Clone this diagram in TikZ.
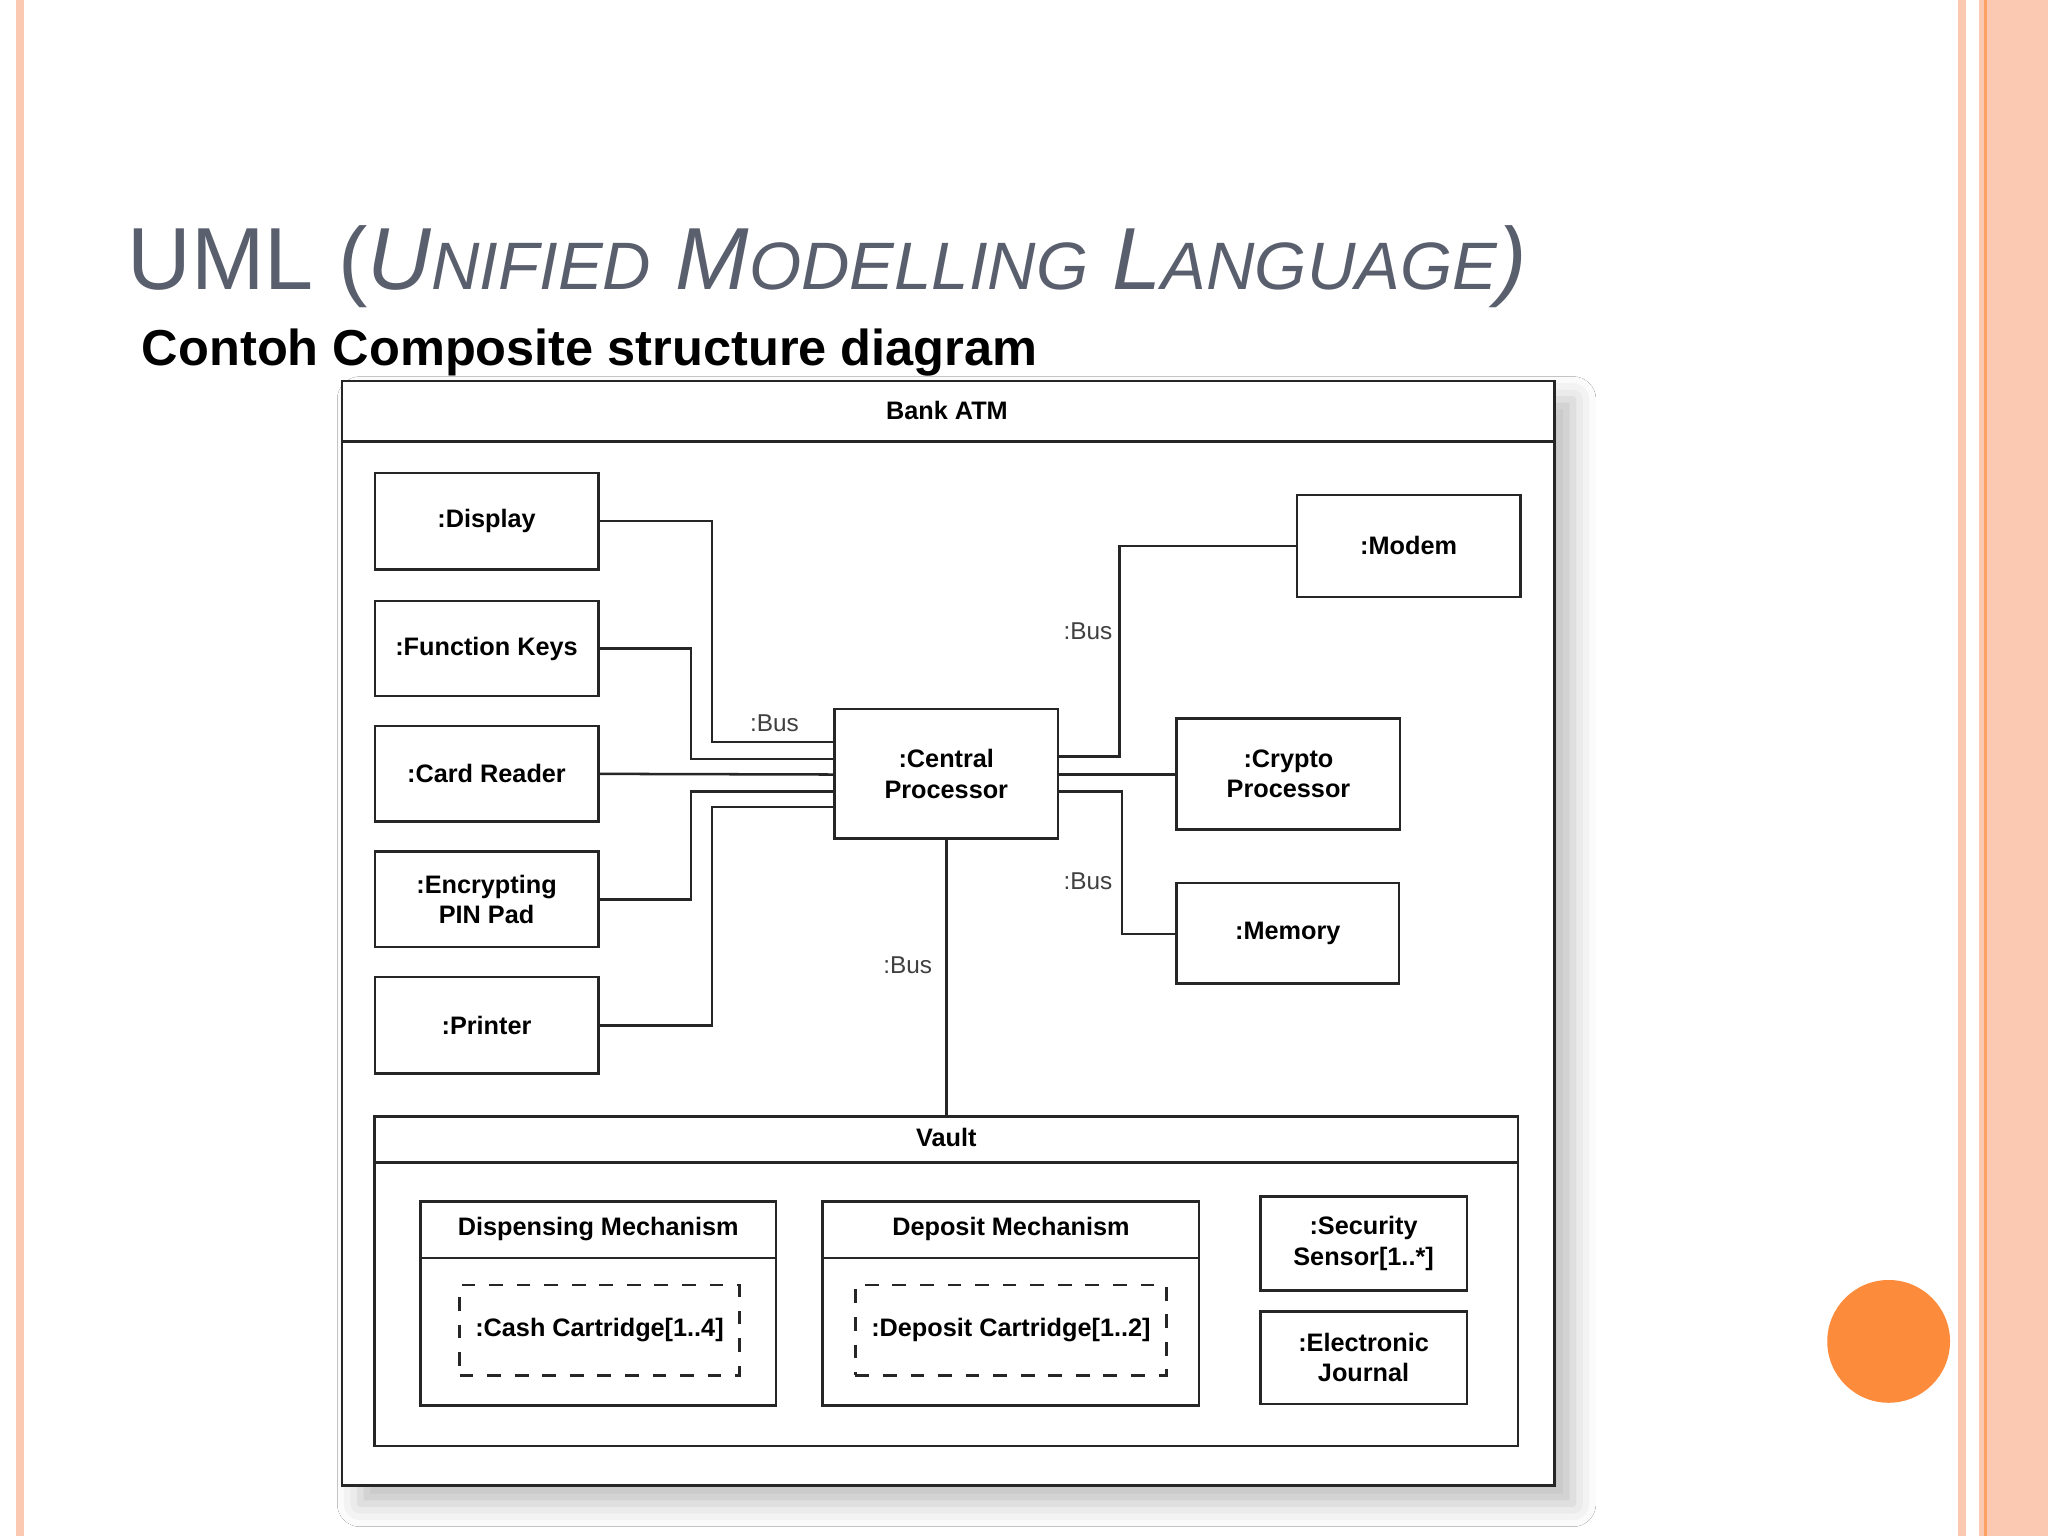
\documentclass[tikz,border=0pt]{standalone}
\usepackage{fontspec}
\setmainfont{Liberation Sans}
\usetikzlibrary{shadows.blur}
\definecolor{stripe}{HTML}{FBC8B2}
\definecolor{titlegray}{HTML}{5A5F6E}
\definecolor{dot}{HTML}{FD8B3C}
\begin{document}
\begin{tikzpicture}[x=0.01cm,y=-0.01cm,
  box/.style={draw=black!85, line width=0.55pt, fill=white, font=\fontsize{5.5}{6.6}\selectfont\bfseries, align=center, inner sep=0pt},
  hdr/.style={font=\fontsize{5.5}{6.6}\selectfont\bfseries, align=center, inner sep=0pt},
  conn/.style={line width=0.55pt, draw=black!85},
  lbl/.style={font=\fontsize{5.3}{6.4}\selectfont, text=black!75}]
\useasboundingbox (0,0) rectangle (1568,1176);
\fill[white] (0,0) rectangle (1568,1176);
% stripes
\fill[stripe] (12,0) rectangle (18,1176);
\fill[stripe] (1499,0) rectangle (1505,1176);
\fill[stripe] (1515,0) rectangle (1568,1176);
\draw[dot!80,line width=0.6pt] (1520,0) -- (1520,1176);
\fill[dot] (1446,1027) circle (47);
% title
\node[anchor=base west, text=titlegray, inner sep=0pt, font=\fontsize{19.2}{22}\selectfont] (title) at (97,222)
  {UML (\textit{U{\fontsize{14.6}{16}\selectfont NIFIED} M{\fontsize{14.6}{16}\selectfont ODELLING} L{\fontsize{14.6}{16}\selectfont ANGUAGE})}};
\node[anchor=base west, inner sep=0pt, font=\fontsize{11}{13}\selectfont\bfseries] (sub) at (108,280) {Contoh Composite structure diagram};
% outer
\node[box, blur shadow={shadow xshift=4pt, shadow yshift=-4pt, shadow blur radius=5pt, shadow opacity=25}, minimum width=9.28cm, minimum height=8.45cm] (atm) at (726,714.5) {};
\draw[conn] (262,338) -- (1190,338);
\node[hdr] (atmlbl) at (725,314) {Bank ATM};
% left parts
\node[box, minimum width=1.71cm, minimum height=0.74cm] (disp) at (372.5,399) {:Display};
\node[box, minimum width=1.71cm, minimum height=0.73cm] (fk) at (372.5,496.5) {:Function Keys};
\node[box, minimum width=1.71cm, minimum height=0.73cm] (cr) at (372.5,592.5) {:Card Reader};
\node[box, minimum width=1.71cm, minimum height=0.73cm] (pin) at (372.5,688.5) {:Encrypting\\PIN Pad};
\node[box, minimum width=1.71cm, minimum height=0.74cm] (prn) at (372.5,785) {:Printer};
\node[box, minimum width=1.71cm, minimum height=0.99cm] (cp) at (724.5,592.5) {:Central\\Processor};
\node[box, minimum width=1.71cm, minimum height=0.78cm] (modem) at (1078.5,418) {:Modem};
\node[box, minimum width=1.71cm, minimum height=0.85cm] (crypto) at (986.5,592.5) {:Crypto\\Processor};
\node[box, minimum width=1.70cm, minimum height=0.77cm] (mem) at (986,714.5) {:Memory};
% connectors
\draw[conn] (disp.east) -| (545,568) -- (cp.west |- 0,568);
\draw[conn] (fk.east) -| (529,581) -- (cp.west |- 0,581);
\draw[conn] (cr.east) -- (cp.west |- 0,593);
\draw[conn] (pin.east) -| (529,606) -- (cp.west |- 0,606);
\draw[conn] (prn.east) -| (545,618) -- (cp.west |- 0,618);
\draw[conn] (modem.west) -| (857,579) -- (cp.east |- 0,579);
\draw[conn] (cp.east |- 0,593) -- (crypto.west |- 0,593);
\draw[conn] (cp.east |- 0,606) -| (859,715) -- (mem.west |- 0,715);
% vault
\node[box, minimum width=8.75cm, minimum height=2.52cm] (vault) at (724.5,981) {};
\draw[conn] (287,890) -- (1162,890);
\node[hdr] (vlbl) at (724.5,871) {Vault};
\draw[conn] (cp.south) -- (vault.north);
\node[lbl] (b1) at (593,554) {:Bus};
\node[lbl] (b2) at (833,483) {:Bus};
\node[lbl] (b3) at (833,675) {:Bus};
\node[lbl] (b4) at (695,739) {:Bus};
% inner vault
\node[box, minimum width=2.72cm, minimum height=1.56cm] (disp2) at (458,998) {};
\draw[conn] (322,963) -- (594,963);
\node[hdr] (dlbl) at (458,941) {Dispensing Mechanism};
\node[box, dashed, minimum width=2.14cm, minimum height=0.69cm] (cash) at (459,1018.5) {:Cash Cartridge[1..4]};
\node[box, minimum width=2.88cm, minimum height=1.56cm] (dep) at (774,998) {};
\draw[conn] (630,963) -- (918,963);
\node[hdr] (deplbl) at (774,941) {Deposit Mechanism};
\node[box, dashed, minimum width=2.38cm, minimum height=0.69cm] (depc) at (774,1018.5) {:Deposit Cartridge[1..2]};
\node[box, minimum width=1.58cm, minimum height=0.72cm] (sec) at (1044,952) {:Security\\Sensor[1..*]};
\node[box, minimum width=1.58cm, minimum height=0.71cm] (ej) at (1044,1039.5) {:Electronic\\Journal};
\end{tikzpicture}
\end{document}
